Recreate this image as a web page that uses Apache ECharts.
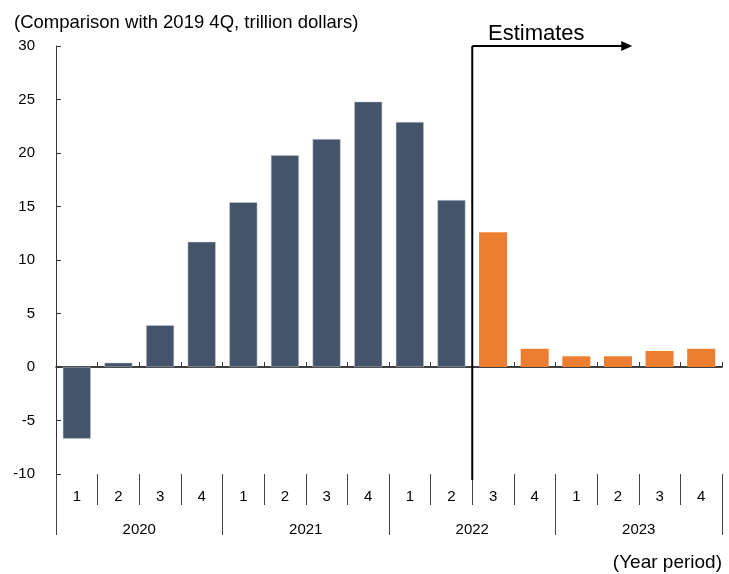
<!DOCTYPE html>
<html>
<head>
<meta charset="utf-8">
<script src="https://cdn.jsdelivr.net/npm/echarts@6/dist/echarts.min.js"></script>
<style>
  html, body { margin: 0; padding: 0; background: #fff; }
  #main { width: 729px; height: 574px; }
</style>
</head>
<body>
<div id="main"></div>
<script>
// quarters x years, values vs 2019 4Q (trillion dollars)
const quarters = ['1', '2', '3', '4', '1', '2', '3', '4', '1', '2', '3', '4', '1', '2', '3', '4'];
const years = ['2020', '2021', '2022', '2023'];
const actual = [-6.7, 0.4, 3.9, 11.7, 15.4, 19.8, 21.3, 24.8, 22.9, 15.6, '-', '-', '-', '-', '-', '-'];
const estimates = ['-', '-', '-', '-', '-', '-', '-', '-', '-', '-', 12.6, 1.7, 1.0, 1.0, 1.5, 1.7];
const yTicks = { min: -10, max: 30, step: 5 };
const firstEstimate = 10;

const FONT = 'Liberation Sans, Arial, sans-serif';
const keys = quarters.map((q, i) => years[Math.floor(i / 4)] + 'Q' + q);

var myChart = echarts.init(document.getElementById('main'), null, { renderer: 'canvas' });

var option = {
  animation: false,
  backgroundColor: '#fff',
  textStyle: { fontFamily: FONT, color: '#000' },
  title: [
    {
      text: '(Comparison with 2019 4Q, trillion dollars)',
      left: 9, top: 8,
      textStyle: { fontSize: 18.5, fontWeight: 'normal', color: '#000', fontFamily: FONT }
    },
    {
      text: '(Year period)',
      right: 2, top: 548,
      textStyle: { fontSize: 19, fontWeight: 'normal', color: '#000', fontFamily: FONT }
    }
  ],
  grid: { left: 56, right: 7, top: 46, bottom: 100, outerBoundsMode: 'none' },
  xAxis: [
    {
      type: 'category',
      data: keys,
      axisLine: { onZero: true, lineStyle: { color: '#000', width: 1.5 } },
      axisTick: { show: true, inside: true, length: 5, interval: 0, lineStyle: { color: '#333' } },
      axisLabel: { show: false },
      splitLine: { show: false }
    },
    {
      type: 'category',
      position: 'bottom',
      offset: 0,
      data: keys,
      axisLine: { show: false, onZero: false },
      axisTick: { show: true, length: 31, interval: 0, lineStyle: { color: '#444' } },
      axisLabel: {
        interval: 0, margin: 15, fontSize: 15, color: '#000', fontFamily: FONT,
        formatter: (v, i) => quarters[i]
      }
    },
    {
      type: 'category',
      position: 'bottom',
      offset: 0,
      data: years,
      axisLine: { show: false, onZero: false },
      axisTick: { show: true, length: 61, interval: 0, lineStyle: { color: '#444' } },
      axisLabel: { interval: 0, margin: 48, fontSize: 15, color: '#000', fontFamily: FONT }
    }
  ],
  yAxis: {
    type: 'value',
    min: yTicks.min,
    max: yTicks.max,
    interval: yTicks.step,
    axisLine: { show: true, lineStyle: { color: '#333', width: 1 } },
    axisTick: { show: true, inside: true, length: 5, lineStyle: { color: '#333' } },
    axisLabel: { margin: 21, fontSize: 15, color: '#000', fontFamily: FONT },
    splitLine: { show: false }
  },
  series: [
    {
      name: 'Actual',
      type: 'bar',
      stack: 'all',
      data: actual,
      barWidth: 28,
      itemStyle: { color: '#44546A', borderColor: '#c9ced6', borderWidth: 0.5 }
    },
    {
      name: 'Estimates',
      type: 'bar',
      stack: 'all',
      data: estimates,
      barWidth: 28,
      itemStyle: { color: '#ED7D31' }
    }
  ]
};

myChart.setOption(option);

// "Estimates" marker placed from the axes
const xa = myChart.convertToPixel({ xAxisIndex: 0 }, firstEstimate - 1);
const xb = myChart.convertToPixel({ xAxisIndex: 0 }, firstEstimate);
const xLine = (xa + xb) / 2;
const yTop = myChart.convertToPixel({ yAxisIndex: 0 }, yTicks.max);
const yBot = myChart.convertToPixel({ yAxisIndex: 0 }, yTicks.min) + 6;
const xArrow = xLine + 160;

myChart.setOption({
  graphic: [
    {
      type: 'line', z: 100,
      shape: { x1: xLine, y1: yTop, x2: xLine, y2: yBot },
      style: { stroke: '#000', lineWidth: 2 }
    },
    {
      type: 'line', z: 100,
      shape: { x1: xLine, y1: yTop, x2: xArrow - 8, y2: yTop },
      style: { stroke: '#000', lineWidth: 2 }
    },
    {
      type: 'polygon', z: 100,
      shape: { points: [[xArrow, yTop], [xArrow - 11, yTop - 5], [xArrow - 11, yTop + 5]] },
      style: { fill: '#000' }
    },
    {
      type: 'text', z: 100,
      x: xLine + 64, y: yTop - 1,
      style: {
        text: 'Estimates', fill: '#000', fontSize: 22, fontFamily: FONT,
        align: 'center', verticalAlign: 'bottom'
      }
    }
  ]
});
</script>
</body>
</html>
